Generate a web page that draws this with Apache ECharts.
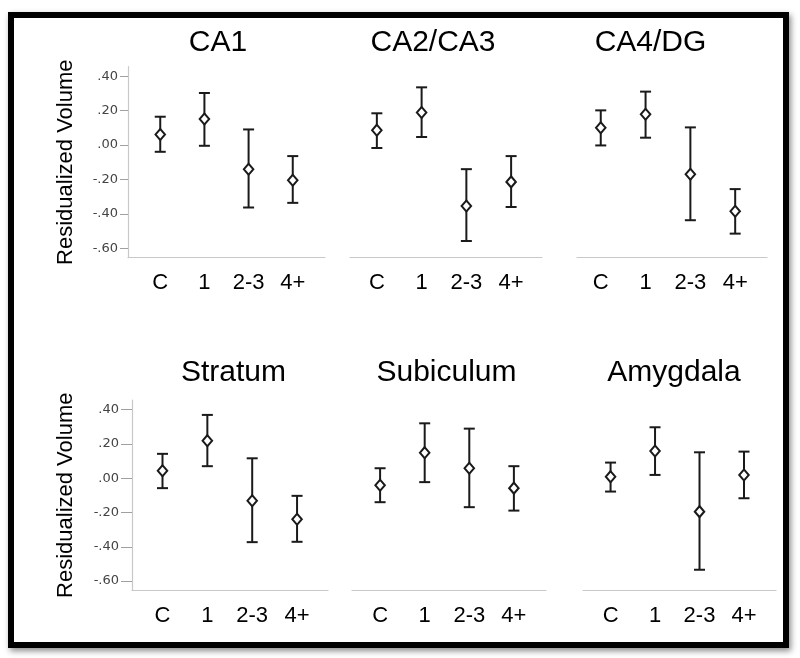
<!DOCTYPE html>
<html><head><meta charset="utf-8">
<script src="https://cdn.jsdelivr.net/npm/echarts@6/dist/echarts.min.js"></script>
<style>html,body{margin:0;padding:0;background:#fff}#c{width:800px;height:658px}</style>
</head><body><div id="c"></div>
<script>
// ---------- data ----------
const categories = ['C', '1', '2-3', '4+'];
const yTicks = [-0.6, -0.4, -0.2, 0, 0.2, 0.4];
const regions = ['CA1', 'CA2/CA3', 'CA4/DG', 'Stratum', 'Subiculum', 'Amygdala'];
const yAxisTitle = 'Residualized Volume';

const ca1Mean  = [0.062, 0.152, -0.140, -0.204];
const ca1Lower = [-0.039, -0.004, -0.363, -0.336];
const ca1Upper = [0.165, 0.303, 0.091, -0.064];

const ca23Mean  = [0.087, 0.190, -0.354, -0.214];
const ca23Lower = [-0.017, 0.047, -0.558, -0.360];
const ca23Upper = [0.185, 0.336, -0.140, -0.064];

const ca4Mean  = [0.101, 0.179, -0.169, -0.385];
const ca4Lower = [-0.002, 0.043, -0.437, -0.515];
const ca4Upper = [0.202, 0.311, 0.103, -0.256];

const strMean  = [0.043, 0.219, -0.132, -0.239];
const strLower = [-0.058, 0.070, -0.373, -0.371];
const strUpper = [0.142, 0.369, 0.116, -0.103];

const subMean  = [-0.041, 0.149, 0.058, -0.058];
const subLower = [-0.140, -0.023, -0.169, -0.189];
const subUpper = [0.058, 0.320, 0.289, 0.070];

const amyMean  = [0.009, 0.159, -0.195, 0.019];
const amyLower = [-0.078, 0.019, -0.534, -0.117];
const amyUpper = [0.091, 0.297, 0.151, 0.155];

const means  = [ca1Mean, ca23Mean, ca4Mean, strMean, subMean, amyMean];
const lowers = [ca1Lower, ca23Lower, ca4Lower, strLower, subLower, amyLower];
const uppers = [ca1Upper, ca23Upper, ca4Upper, strUpper, subUpper, amyUpper];

// ---------- layout ----------
const FONT = '"Liberation Sans", Arial, Helvetica, sans-serif';
const layout = [
  {left: 128, top: 66.7, width: 197, height: 191, xMin: -0.73, xMax: 3.73, showY: true, nameGap: 51.5, tickLen: 8, tx: 218, ty: 43},
  {left: 350, top: 66.7, width: 192, height: 191, xMin: -0.60, xMax: 3.69, showY: false, tx: 433, ty: 43},
  {left: 577, top: 66.7, width: 190, height: 191, xMin: -0.53, xMax: 3.71, showY: false, tx: 650.5, ty: 43},
  {left: 132, top: 400, width: 196, height: 190.5, xMin: -0.68, xMax: 3.69, showY: true, nameGap: 55.5, tickLen: 11, tx: 233.5, ty: 373},
  {left: 352, top: 400, width: 194, height: 190.5, xMin: -0.63, xMax: 3.72, showY: false, tx: 446.5, ty: 373},
  {left: 583, top: 400, width: 193, height: 190.5, xMin: -0.62, xMax: 3.72, showY: false, tx: 674, ty: 373}
];
const Y_MIN = -0.655, Y_MAX = 0.456;

function fmtY(v) {
  const s = Math.abs(v).toFixed(2).replace(/^0/, '');
  return (v < -1e-9 ? '-' : '') + s;
}

function renderBar(params, api) {
  const x = api.value(0);
  const lo = api.coord([x, api.value(1)]);
  const hi = api.coord([x, api.value(2)]);
  const w = 5.5;
  const style = {stroke: '#1a1a1a', lineWidth: 2, fill: null};
  return {type: 'group', children: [
    {type: 'line', shape: {x1: lo[0], y1: lo[1], x2: hi[0], y2: hi[1]}, style: style},
    {type: 'line', shape: {x1: lo[0] - w, y1: lo[1], x2: lo[0] + w, y2: lo[1]}, style: style},
    {type: 'line', shape: {x1: hi[0] - w, y1: hi[1], x2: hi[0] + w, y2: hi[1]}, style: style}
  ]};
}

const grid = [], xAxis = [], yAxis = [], series = [], title = [];
layout.forEach((p, i) => {
  grid.push({left: p.left, top: p.top, width: p.width, height: p.height, containLabel: false, outerBoundsMode: 'none'});
  title.push({text: regions[i], left: p.tx, top: p.ty - 15, textAlign: 'center', padding: 0,
    textStyle: {fontSize: 30, fontWeight: 'normal', color: '#000', fontFamily: FONT}});
  xAxis.push({type: 'value', gridIndex: i, min: p.xMin, max: p.xMax,
    axisLine: {show: true, onZero: false, lineStyle: {color: '#c8c8c8', width: 1.2}},
    axisTick: {show: false}, splitLine: {show: false},
    axisLabel: {customValues: [0, 1, 2, 3], formatter: v => categories[Math.round(v)],
      color: '#000', fontSize: 22, fontFamily: FONT, margin: 14.5}});
  const y = {type: 'value', gridIndex: i, min: Y_MIN, max: Y_MAX, splitLine: {show: false}};
  if (p.showY) {
    Object.assign(y, {
      axisLine: {show: true, onZero: false, lineStyle: {color: '#c8c8c8', width: 1.2}},
      axisTick: {show: true, customValues: yTicks, length: p.tickLen, lineStyle: {color: '#a0a0a0', width: 1}},
      axisLabel: {customValues: yTicks, formatter: fmtY, color: '#444', fontSize: 13,
        fontFamily: '"DejaVu Sans", Verdana, sans-serif', margin: p.tickLen + 2},
      name: yAxisTitle, nameLocation: 'middle', nameRotate: 90, nameGap: p.nameGap,
      nameTextStyle: {fontSize: 22, color: '#000', fontFamily: FONT}
    });
  } else {
    Object.assign(y, {axisLine: {show: false}, axisTick: {show: false}, axisLabel: {show: false}});
  }
  yAxis.push(y);
  const barData = categories.map((c, k) => [k, lowers[i][k], uppers[i][k]]);
  const ptData = categories.map((c, k) => [k, means[i][k]]);
  series.push({type: 'custom', xAxisIndex: i, yAxisIndex: i, renderItem: renderBar,
    data: barData, encode: {x: 0, y: [1, 2]}, z: 2, silent: true, clip: false});
  series.push({type: 'scatter', xAxisIndex: i, yAxisIndex: i, data: ptData,
    symbol: 'diamond', symbolSize: [9.5, 11], z: 3, silent: true,
    itemStyle: {color: '#fff', borderColor: '#1a1a1a', borderWidth: 2, opacity: 1}});
});

const chart = echarts.init(document.getElementById('c'), null, {renderer: 'canvas'});
chart.setOption({
  animation: false,
  backgroundColor: '#fff',
  title: title,
  grid: grid, xAxis: xAxis, yAxis: yAxis, series: series,
  graphic: [
    {type: 'rect', z: -10, silent: true, shape: {x: 8, y: 12, width: 781, height: 636},
      style: {fill: '#000', shadowBlur: 6, shadowOffsetX: 2, shadowOffsetY: 3, shadowColor: 'rgba(0,0,0,0.45)'}},
    {type: 'rect', z: -9, silent: true, shape: {x: 14, y: 18, width: 769, height: 624},
      style: {fill: '#fff'}}
  ]
});
</script>
</body></html>
